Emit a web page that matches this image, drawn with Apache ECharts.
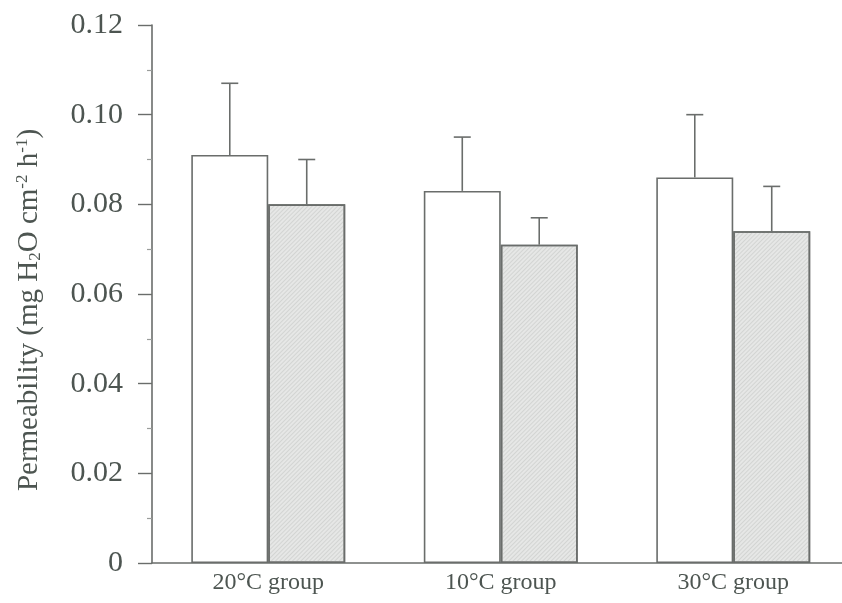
<!DOCTYPE html>
<html>
<head>
<meta charset="utf-8">
<script src="https://cdn.jsdelivr.net/npm/echarts@6/dist/echarts.min.js"></script>
<style>
html,body{margin:0;padding:0;background:#fff;overflow:hidden;width:842px;height:603px;}
#chart{width:852px;height:603px;}
</style>
</head>
<body>
<div id="chart"></div>
<script>
var categories = ['20°C group', '10°C group', '30°C group'];
var whiteValues = [0.091, 0.083, 0.086];
var whiteErrTop = [0.107, 0.095, 0.100];
var greyValues = [0.080, 0.071, 0.074];
var greyErrTop = [0.090, 0.077, 0.084];
var yTickLabels = ['0', '0.02', '0.04', '0.06', '0.08', '0.10', '0.12'];

var BAR_FRAC = 0.331;
var FONT = '"Liberation Serif", "DejaVu Serif", serif';
var TEXT_COLOR = '#4d5551';
var LINE_COLOR = '#6a6d6b';

function errData(vals, tops) {
  return vals.map(function (v, i) { return [i, tops[i], v]; });
}

function makeErrRender(sign) {
  return function (params, api) {
    var ci = api.value(0);
    var top = api.coord([ci, api.value(1)]);
    var base = api.coord([ci, api.value(2)]);
    var band = api.size([1, 0])[0];
    var x = top[0] + sign * band * BAR_FRAC / 2;
    var cap = 8.5;
    var st = { stroke: LINE_COLOR, lineWidth: 1.6 };
    return {
      type: 'group',
      children: [
        { type: 'line', shape: { x1: x, y1: base[1], x2: x, y2: top[1] }, style: st },
        { type: 'line', shape: { x1: x - cap, y1: top[1], x2: x + cap, y2: top[1] }, style: st }
      ]
    };
  };
}

var chart = echarts.init(document.getElementById('chart'), null, { renderer: 'canvas' });
chart.setOption({
  animation: false,
  backgroundColor: '#ffffff',
  grid: { left: 152, top: 25, width: 697.5, height: 538, containLabel: false },
  xAxis: {
    type: 'category',
    data: categories,
    boundaryGap: true,
    axisLine: { show: true, lineStyle: { color: LINE_COLOR, width: 1.6 } },
    axisTick: { show: false },
    axisLabel: { color: TEXT_COLOR, fontFamily: FONT, fontSize: 24, margin: 8 },
    splitLine: { show: false }
  },
  yAxis: {
    type: 'value',
    min: 0,
    max: 0.12,
    interval: 0.02,
    axisLine: { show: true, lineStyle: { color: LINE_COLOR, width: 1.6 } },
    axisTick: { show: true, length: 14, lineStyle: { color: LINE_COLOR, width: 1.4 } },
    minorTick: { show: true, splitNumber: 2, length: 5, lineStyle: { color: '#9a9d9b', width: 1.2 } },
    splitLine: { show: false },
    axisLabel: {
      color: TEXT_COLOR, fontFamily: FONT, fontSize: 30, margin: 29,
      formatter: function (v) { return yTickLabels[Math.round(v / 0.02)]; }
    },
    name: '{n|Permeability (mg H}{sub|2}{n|O cm}{sup|-2}{n| h}{sup|-1}{n|)}',
    nameLocation: 'middle',
    nameRotate: 90,
    nameGap: 108,
    nameTextStyle: {
      padding: [0, 32, 0, 0],
      rich: {
        n: { fontFamily: FONT, fontSize: 29, color: TEXT_COLOR },
        sub: { fontFamily: FONT, fontSize: 17, color: TEXT_COLOR, verticalAlign: 'bottom', padding: [13, 0, 0, 0] },
        sup: { fontFamily: FONT, fontSize: 17, color: TEXT_COLOR, verticalAlign: 'top', padding: [0, 0, 13, 0] }
      }
    }
  },
  series: [
    {
      type: 'bar',
      data: whiteValues,
      barWidth: (BAR_FRAC * 100) + '%',
      barGap: '0%',
      itemStyle: { color: '#ffffff', borderColor: LINE_COLOR, borderWidth: 1.6 },
      z: 2
    },
    {
      type: 'bar',
      data: greyValues,
      barWidth: (BAR_FRAC * 100) + '%',
      barGap: '0%',
      itemStyle: {
        color: '#e6e7e6', borderColor: LINE_COLOR, borderWidth: 1.6,
        decal: {
          symbol: 'rect',
          dashArrayX: [1, 0],
          dashArrayY: [1, 2],
          rotation: -Math.PI / 4,
          color: 'rgba(175,177,175,0.35)'
        }
      },
      z: 2
    },
    {
      type: 'custom',
      data: errData(whiteValues, whiteErrTop),
      renderItem: makeErrRender(-1),
      encode: { x: 0, y: [1, 2] },
      z: 3
    },
    {
      type: 'custom',
      data: errData(greyValues, greyErrTop),
      renderItem: makeErrRender(1),
      encode: { x: 0, y: [1, 2] },
      z: 3
    }
  ]
});
</script>
</body>
</html>
